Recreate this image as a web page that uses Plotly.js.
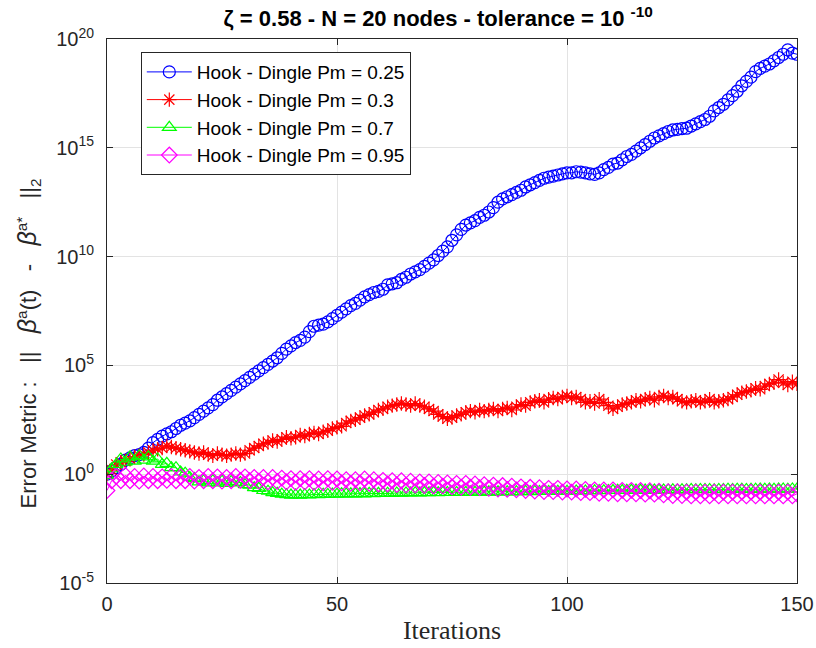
<!DOCTYPE html>
<html>
<head>
<meta charset="utf-8">
<script src="https://cdn.plot.ly/plotly-3.0.1.min.js"></script>
<style>html,body{margin:0;padding:0;background:#fff;}#chart{width:816px;height:648px;}</style>
</head>
<body>
<div id="chart"></div>
<script>
// Iteration index 0..150
const iterations = Array.from({length: 151}, (_, i) => i);

// log10 of the error metric
const pm025Log = [0.0,0.15,0.3,0.45,0.65,0.75,0.85,0.9,1.0,1.2,1.45,1.6,1.75,1.85,1.95,2.1,2.25,2.35,2.45,2.6,
2.75,2.9,3.05,3.2,3.4,3.55,3.7,3.85,4.0,4.15,4.3,4.45,4.6,4.75,4.9,5.05,5.2,5.35,5.55,5.75,
5.9,6.05,6.15,6.3,6.55,6.8,6.85,6.9,7.0,7.15,7.3,7.45,7.6,7.75,7.85,8.0,8.15,8.25,8.35,8.4,
8.5,8.7,8.75,8.8,8.95,9.05,9.2,9.3,9.4,9.55,9.7,9.85,10.05,10.25,10.45,10.75,11.0,11.25,11.45,11.55,
11.65,11.8,11.9,12.05,12.25,12.5,12.65,12.75,12.85,12.95,13.05,13.2,13.3,13.4,13.5,13.6,13.65,13.7,13.75,13.8,
13.85,13.85,13.9,13.88,13.85,13.8,13.78,13.85,14.0,14.1,14.25,14.3,14.45,14.6,14.7,14.85,15.0,15.15,15.3,15.45,
15.55,15.65,15.75,15.82,15.85,15.88,15.9,16.0,16.1,16.2,16.3,16.45,16.7,16.85,17.0,17.2,17.4,17.6,17.85,18.05,
18.25,18.5,18.65,18.75,18.85,19.0,19.15,19.3,19.5,19.35,19.3];

const pm03Log = [0.0,0.2,0.45,0.55,0.6,0.7,0.8,0.85,0.9,1.0,1.1,1.15,1.2,1.3,1.25,1.2,1.15,1.1,1.05,1.0,
0.95,1.0,0.9,0.85,0.95,0.9,0.85,0.9,0.95,0.9,0.95,1.1,1.2,1.3,1.4,1.45,1.55,1.5,1.6,1.7,
1.65,1.7,1.8,1.75,1.85,1.9,1.85,1.95,2.0,2.1,2.15,2.2,2.35,2.45,2.5,2.6,2.7,2.75,2.85,2.95,
3.0,3.1,3.15,3.2,3.25,3.2,3.15,3.25,3.15,3.1,3.0,2.9,2.75,2.65,2.55,2.6,2.7,2.75,2.85,2.9,
2.85,2.95,2.9,2.95,3.0,2.9,3.0,3.05,2.95,3.1,3.2,3.15,3.3,3.35,3.4,3.3,3.45,3.5,3.45,3.55,
3.6,3.5,3.55,3.45,3.3,3.35,3.25,3.45,3.3,3.15,3.0,3.1,3.2,3.25,3.3,3.4,3.35,3.45,3.5,3.4,
3.55,3.6,3.5,3.55,3.45,3.35,3.3,3.35,3.4,3.3,3.35,3.45,3.3,3.35,3.4,3.45,3.55,3.65,3.75,3.8,
3.85,3.95,3.9,4.05,4.15,4.2,4.35,4.2,4.1,4.25,4.15];

const pm07Log = [-0.05,0.25,0.45,0.7,0.55,0.8,0.6,0.85,0.65,0.8,0.6,0.7,0.45,0.5,0.3,0.3,0.1,0.05,-0.15,-0.2,
-0.35,-0.3,-0.4,-0.3,-0.4,-0.32,-0.42,-0.33,-0.4,-0.38,-0.48,-0.5,-0.62,-0.65,-0.75,-0.78,-0.85,-0.88,-0.92,-0.94,
-0.96,-0.95,-0.96,-0.94,-0.95,-0.93,-0.94,-0.92,-0.93,-0.91,-0.92,-0.9,-0.91,-0.9,-0.9,-0.89,-0.9,-0.88,-0.89,-0.88,
-0.88,-0.87,-0.88,-0.86,-0.87,-0.86,-0.86,-0.85,-0.86,-0.85,-0.85,-0.84,-0.85,-0.84,-0.84,-0.83,-0.84,-0.83,-0.83,-0.82,
-0.83,-0.82,-0.82,-0.81,-0.82,-0.81,-0.81,-0.8,-0.81,-0.8,-0.8,-0.79,-0.8,-0.79,-0.79,-0.78,-0.79,-0.78,-0.78,-0.77,
-0.78,-0.77,-0.77,-0.76,-0.77,-0.76,-0.76,-0.75,-0.76,-0.75,-0.75,-0.74,-0.75,-0.74,-0.74,-0.73,-0.74,-0.73,-0.73,-0.72,
-0.73,-0.72,-0.72,-0.71,-0.72,-0.71,-0.71,-0.7,-0.71,-0.7,-0.7,-0.7,-0.71,-0.7,-0.7,-0.69,-0.7,-0.69,-0.69,-0.7,
-0.69,-0.69,-0.68,-0.69,-0.68,-0.69,-0.68,-0.68,-0.69,-0.68,-0.68];

const pm095Log = [-0.75,-0.3,-0.1,-0.3,-0.05,-0.3,-0.1,-0.32,-0.08,-0.3,-0.1,-0.3,-0.12,-0.28,-0.1,-0.3,-0.12,-0.3,-0.1,-0.32,
-0.15,-0.3,-0.1,-0.3,-0.12,-0.32,-0.15,-0.3,-0.1,-0.28,-0.12,-0.3,-0.15,-0.32,-0.15,-0.35,-0.15,-0.33,-0.18,-0.35,
-0.2,-0.38,-0.2,-0.35,-0.2,-0.38,-0.22,-0.4,-0.2,-0.38,-0.22,-0.4,-0.25,-0.42,-0.25,-0.4,-0.22,-0.42,-0.25,-0.45,
-0.28,-0.45,-0.3,-0.48,-0.3,-0.5,-0.32,-0.5,-0.35,-0.52,-0.35,-0.55,-0.38,-0.55,-0.4,-0.58,-0.42,-0.6,-0.42,-0.6,
-0.45,-0.62,-0.48,-0.65,-0.5,-0.68,-0.52,-0.7,-0.55,-0.72,-0.58,-0.75,-0.6,-0.78,-0.62,-0.8,-0.65,-0.8,-0.65,-0.82,
-0.68,-0.82,-0.68,-0.85,-0.7,-0.85,-0.72,-0.88,-0.72,-0.88,-0.72,-0.9,-0.74,-0.9,-0.74,-0.9,-0.75,-0.92,-0.76,-0.92,
-0.78,-0.95,-0.8,-0.98,-0.8,-0.98,-0.82,-1.0,-0.82,-1.0,-0.82,-1.0,-0.82,-1.0,-0.82,-1.0,-0.82,-1.0,-0.82,-1.0,
-0.82,-1.0,-0.82,-1.0,-0.82,-1.0,-0.82,-1.0,-0.82,-1.0,-0.9];

const seriesNames = ['Hook - Dingle Pm = 0.25','Hook - Dingle Pm = 0.3','Hook - Dingle Pm = 0.7','Hook - Dingle Pm = 0.95'];
const seriesColors = ['#0000ff','#ff0000','#00ff00','#ff00ff'];
const seriesSymbols = ['circle-open','asterisk-open','triangle-up-open','diamond-open'];
const seriesLogs = [pm025Log, pm03Log, pm07Log, pm095Log];

const yTickVals = [1e-5, 1e0, 1e5, 1e10, 1e15, 1e20];
const yTickText = ['10<sup>-5</sup>','10<sup>0</sup>','10<sup>5</sup>','10<sup>10</sup>','10<sup>15</sup>','10<sup>20</sup>'];
const xTickVals = [0, 50, 100, 150];

const traces = seriesLogs.map((arr, k) => ({
  x: iterations,
  y: arr.map(v => Math.pow(10, v)),
  type: 'scatter',
  mode: 'lines+markers',
  name: seriesNames[k],
  line: {color: seriesColors[k], width: 1},
  marker: {symbol: seriesSymbols[k], size: 12, color: seriesColors[k], line: {color: seriesColors[k], width: 1.2}}
}));

const NB = '\u00A0';
const beta = '<span style="font-size:25px"><i>β</i></span>';
const yTitle = 'Error Metric :' + NB.repeat(3) + '||' + NB.repeat(3) + beta + '<sup>a</sup>(t)' + NB.repeat(3) + '-' + NB.repeat(3) + beta + '<sup>a*</sup>' + NB.repeat(3) + '||<sub>2</sub>';

const axisCommon = {
  showline: true, linecolor: '#262626', linewidth: 1, mirror: 'ticks',
  ticks: 'inside', ticklen: 6, tickcolor: '#262626',
  showgrid: true, gridcolor: '#e3e3e3', gridwidth: 1, zeroline: false,
  tickfont: {family: 'Liberation Sans, Arial, sans-serif', size: 20, color: '#262626'}
};

const layout = {
  width: 816, height: 648,
  margin: {l: 107, r: 19, t: 39, b: 65},
  paper_bgcolor: '#ffffff', plot_bgcolor: '#ffffff',
  title: {
    text: 'ζ = 0.58 - N = 20 nodes - tolerance = 10 <sup>-10</sup>',
    font: {family: 'Liberation Sans, Arial, sans-serif', size: 22, color: '#000000', weight: 'bold'},
    x: 0.537, xanchor: 'center', y: 0.971, yanchor: 'middle'
  },
  xaxis: Object.assign({}, axisCommon, {
    range: [0, 150], tickvals: xTickVals, ticklabelstandoff: 3,
    title: {text: 'Iterations', font: {family: 'Liberation Serif, DejaVu Serif, serif', size: 26, color: '#262626'}, standoff: 6}
  }),
  yaxis: Object.assign({}, axisCommon, {
    type: 'log', range: [-5, 20], tickvals: yTickVals, ticktext: yTickText, ticklabelstandoff: 8
  }),
  annotations: [{
    text: yTitle, textangle: -90, showarrow: false,
    xref: 'paper', yref: 'paper', x: -0.114, y: 0.441, xanchor: 'center', yanchor: 'middle',
    font: {family: 'Liberation Sans, Arial, sans-serif', size: 22, color: '#262626'}
  }],
  legend: {
    x: 0.049, y: 0.976, xanchor: 'left', yanchor: 'top',
    bgcolor: '#ffffff', bordercolor: '#262626', borderwidth: 1,
    font: {family: 'Liberation Sans, Arial, sans-serif', size: 19, color: '#000000'},
    tracegroupgap: 0, itemwidth: 45
  },
  showlegend: true
};

Plotly.newPlot('chart', traces, layout, {staticPlot: true, displayModeBar: false});
</script>
</body>
</html>
